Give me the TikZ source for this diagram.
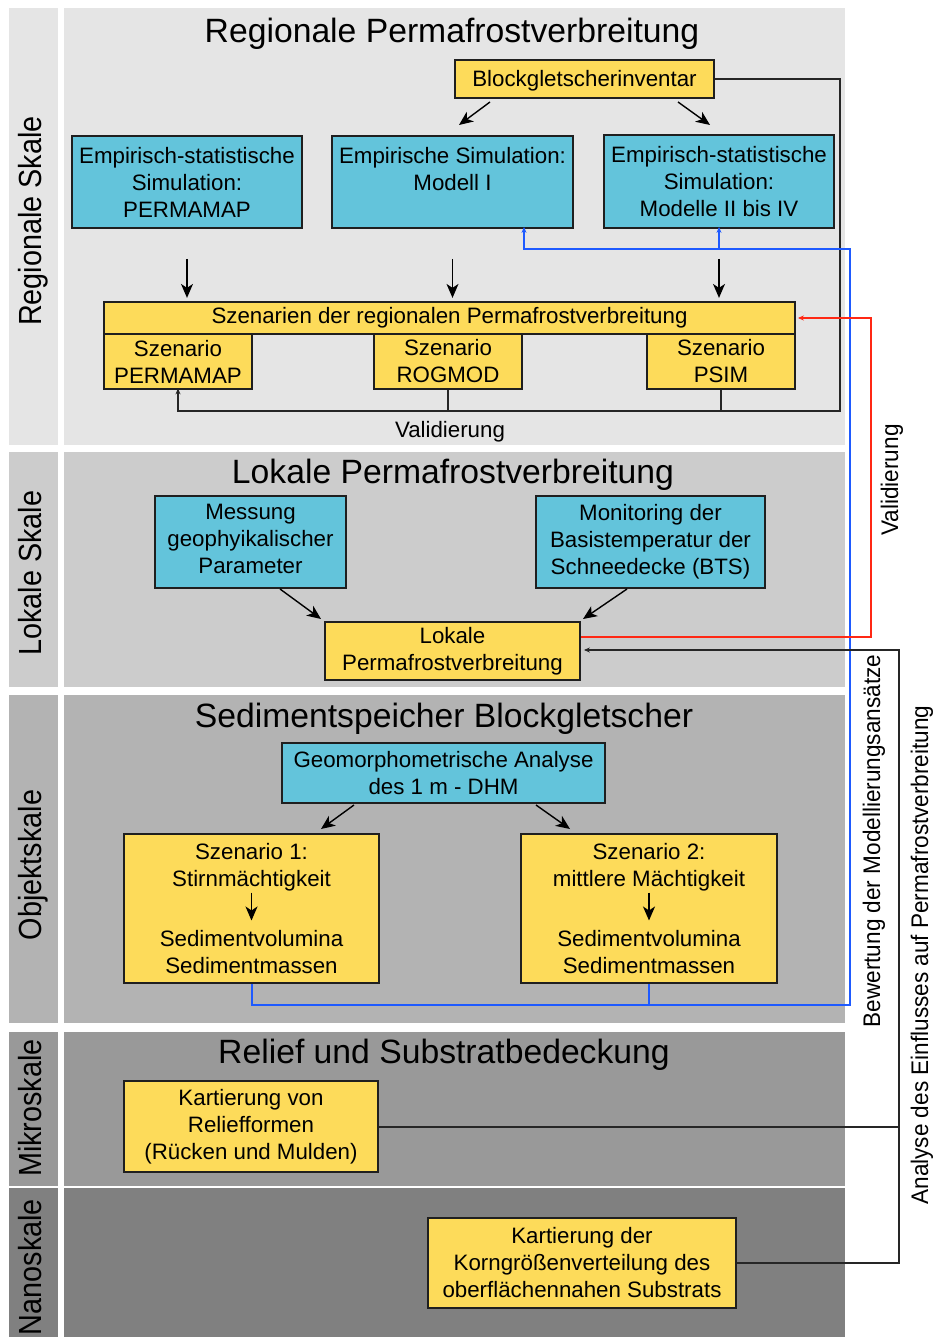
\documentclass[tikz,border=0pt]{standalone}
\usepackage{fontspec}
\setmainfont{Liberation Sans}
\usepackage{graphicx}
\usetikzlibrary{arrows.meta,calc}
\definecolor{cyanbox}{RGB}{99,196,219}
\definecolor{yellowbox}{RGB}{253,219,90}
\definecolor{pReg}{RGB}{229,229,229}
\definecolor{pLok}{RGB}{204,204,204}
\definecolor{pObj}{RGB}{179,179,179}
\definecolor{pMik}{RGB}{153,153,153}
\definecolor{pNan}{RGB}{128,128,128}
\definecolor{blueline}{RGB}{30,90,255}
\definecolor{redline}{RGB}{255,40,20}
\begin{document}
\begin{tikzpicture}[x=1pt,y=-1pt,
  box/.style={draw=black!88, line width=1.8pt, inner sep=0pt, align=center, font=\fontsize{22.3}{27}\selectfont},
  cbox/.style={box, fill=cyanbox},
  ybox/.style={box, fill=yellowbox},
  titletext/.style={anchor=base, font=\fontsize{33.7}{40}\selectfont},
  sidetext/.style={anchor=base, rotate=90, font=\fontsize{32}{38}\selectfont},
  righttext/.style={anchor=base, rotate=90, font=\fontsize{24}{29}\selectfont},
  plaintext/.style={anchor=base, font=\fontsize{22.3}{27}\selectfont},
  bigarrow/.style={-{Stealth[length=14pt,width=12pt,inset=4pt]}, line width=1.4pt},
  conn/.style={line width=2pt, draw=black!85},
  smallhead/.style={-{Stealth[length=6pt,width=5pt]}},
  bconn/.style={line width=2pt, draw=blueline},
  rconn/.style={line width=2pt, draw=redline}
]
\useasboundingbox (0,0) rectangle (933,1337);
\fill[white] (0,0) rectangle (933,1337);
% panels
\fill[pReg] (9,8) rectangle (58,445);   \fill[pReg] (64,8) rectangle (845,445);
\fill[pLok] (9,452) rectangle (58,687); \fill[pLok] (64,452) rectangle (845,687);
\fill[pObj] (9,695) rectangle (58,1023); \fill[pObj] (64,695) rectangle (845,1023);
\fill[pMik] (9,1032) rectangle (58,1186); \fill[pMik] (64,1032) rectangle (845,1186);
\fill[pNan] (9,1188) rectangle (58,1337); \fill[pNan] (64,1188) rectangle (845,1337);

% side labels
\node[sidetext] (sReg) at (41,221) {\scalebox{0.9}[1]{Regionale Skale}};
\node[sidetext] (sLok) at (41,573) {\scalebox{0.9}[1]{Lokale Skale}};
\node[sidetext] (sObj) at (41,865) {\scalebox{0.9}[1]{Objektskale}};
\node[sidetext] (sMik) at (41,1108) {\scalebox{0.9}[1]{Mikroskale}};
\node[sidetext] (sNan) at (41,1267) {\scalebox{0.9}[1]{Nanoskale}};

% titles
\node[titletext] (tReg) at (452,43) {Regionale Permafrostverbreitung};
\node[titletext] (tLok) at (453,483) {Lokale Permafrostverbreitung};
\node[titletext] (tObj) at (444,727) {Sedimentspeicher Blockgletscher};
\node[titletext] (tMik) at (444,1063) {Relief und Substratbedeckung};

% regional scale
\node[ybox, minimum width=259, minimum height=38] (block) at (584.5,79) {\rule{0pt}{20pt}Blockgletscherinventar};
\node[cbox, minimum width=230, minimum height=92] (pm) at (187,182) {Empirisch-statistische\\Simulation:\\PERMAMAP};
\node[cbox, minimum width=241, minimum height=92] (m1) at (452.5,182) {Empirische Simulation:\\Modell I\\\phantom{P}};
\node[cbox, minimum width=230, minimum height=93] (m2) at (719,181.5) {Empirisch-statistische\\Simulation:\\Modelle II bis IV};
\node[ybox, minimum width=691, minimum height=32] (szen) at (449.5,318) {Szenarien der regionalen Permafrostverbreitung};
\node[ybox, minimum width=148, minimum height=55] (spm) at (178,361.5) {Szenario\\PERMAMAP};
\node[ybox, minimum width=148, minimum height=55] (sro) at (448,361.5) {Szenario\\ROGMOD};
\node[ybox, minimum width=148, minimum height=55] (sps) at (721,361.5) {Szenario\\PSIM};
\node[plaintext] (val1) at (450,437) {Validierung};

\coordinate (a1s) at (490,102); \coordinate (a1e) at (459,125);
\coordinate (a2s) at (678,102); \coordinate (a2e) at (710,125);
\draw[bigarrow] (a1s) -- (a1e);
\draw[bigarrow] (a2s) -- (a2e);
\draw[bigarrow] ($(pm.south)+(0,30)$) -- ($(pm.south)+(0,69)$);
\draw[bigarrow] ($(m1.south)+(0,30)$) -- ($(m1.south)+(0,69)$);
\draw[bigarrow] ($(m2.south)+(0,30)$) -- ($(m2.south)+(0,69)$);

\coordinate (vc) at (840,411);
\draw[conn, smallhead] (block.east) -| (vc) -- (vc -| spm.south) -- ([yshift=1.5pt]spm.south);
\draw[conn] (sro.south) -- (sro.south |- vc);
\draw[conn] (sps.south) -- (sps.south |- vc);

% lokal scale
\node[cbox, minimum width=191, minimum height=92] (mess) at (250.5,542) {Messung\\geophyikalischer\\Parameter\rule[-6pt]{0pt}{0pt}};
\node[cbox, minimum width=229, minimum height=92] (mon) at (650.5,542) {Monitoring der\\Basistemperatur der\\Schneedecke (BTS)};
\node[ybox, minimum width=255, minimum height=58] (lok) at (452.5,651) {Lokale\\Permafrostverbreitung};
\coordinate (a3s) at (280,589); \coordinate (a3e) at (321,619);
\coordinate (a4s) at (627,589); \coordinate (a4e) at (583,619);
\draw[bigarrow] (a3s) -- (a3e);
\draw[bigarrow] (a4s) -- (a4e);

% objekt scale
\node[cbox, minimum width=323, minimum height=60] (geo) at (443.5,773) {Geomorphometrische Analyse\\des 1 m - DHM};
\node[ybox, minimum width=255, minimum height=149] (sz1) at (251.5,908.5) {Szenario 1:\\Stirnmächtigkeit\\[33pt]Sedimentvolumina\\Sedimentmassen};
\node[ybox, minimum width=256, minimum height=149] (sz2) at (649,908.5) {Szenario 2:\\mittlere Mächtigkeit\\[33pt]Sedimentvolumina\\Sedimentmassen};
\coordinate (a5s) at (354,805); \coordinate (a5e) at (321,829);
\coordinate (a6s) at (536,805); \coordinate (a6e) at (570,829);
\draw[bigarrow] (a5s) -- (a5e);
\draw[bigarrow] (a6s) -- (a6e);
\draw[bigarrow] ($(sz1.center)+(0,-16)$) -- ($(sz1.center)+(0,12)$);
\draw[bigarrow] ($(sz2.center)+(0,-16)$) -- ($(sz2.center)+(0,12)$);

% mikro / nano
\node[ybox, minimum width=254, minimum height=91] (rel) at (251,1126.5) {Kartierung von\\Reliefformen\\(Rücken und Mulden)};
\node[ybox, minimum width=308, minimum height=90] (nano) at (582,1263) {Kartierung der\\Korngrößenverteilung des\\oberflächennahen Substrats};

% blue connector
\coordinate (bc) at (850,1005);
\coordinate (bt) at (850,249);
\coordinate (ba) at (524,249);
\draw[bconn, smallhead] (sz1.south) |- (bc) -- (bt) -- (ba) -- ([yshift=2pt]ba |- m1.south);
\draw[bconn] (sz2.south) -- (sz2.south |- bc);
\draw[bconn, smallhead] (m2.south |- bt) -- ([yshift=2pt]m2.south);

% red connector
\coordinate (rc) at (871,637);
\draw[rconn, smallhead] (lok.east |- rc) -- (rc) |- ([xshift=2pt]szen.east);

% black connector to lokal
\coordinate (ac) at (899,650);
\draw[conn] (rel.east) -- (rel.east -| ac);
\draw[conn, smallhead] (nano.east) -| (ac) -- ([xshift=3pt]lok.east |- ac);

% right labels
\node[righttext] (rVal) at (898,480) {\scalebox{0.94}[1]{Validierung}};
\node[righttext] (rBew) at (880,841) {\scalebox{0.94}[1]{Bewertung der Modellierungsansätze}};
\node[righttext] (rAna) at (928,955) {\scalebox{0.94}[1]{Analyse des Einflusses auf Permafrostverbreitung}};
\end{tikzpicture}
\end{document}
